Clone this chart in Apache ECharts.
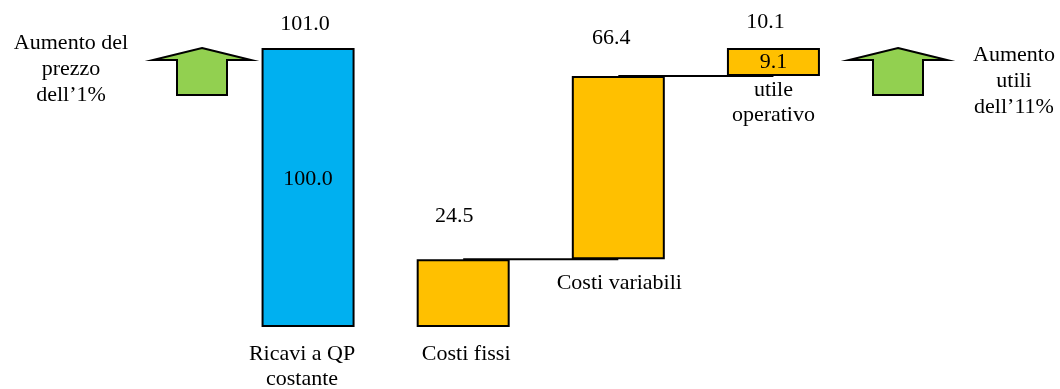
<!DOCTYPE html>
<html>
<head>
<meta charset="utf-8">
<script src="https://cdn.jsdelivr.net/npm/echarts@6/dist/echarts.min.js"></script>
<style>
  html, body { margin: 0; padding: 0; background: #ffffff; }
  #chart { width: 1060px; height: 389px; }
</style>
</head>
<body>
<div id="chart"></div>
<script>
// Waterfall: revenue after a 1% price rise, split into fixed costs, variable costs and operating profit
const categories = ['Ricavi a QP\ncostante', 'Costi fissi', 'Costi variabili', 'utile\noperativo'];
const baseValues = [0, 0, 24.5, 90.9];
const barValues = [101.0, 24.5, 66.4, 10.1];
const topLabels = ['101.0', '24.5', '66.4', '10.1'];
const innerLabels = ['100.0', '', '', '9.1'];
const leftNote = ['Aumento del', 'prezzo', 'dell\u20191%'];
const rightNote = ['Aumento', 'utili', 'dell\u201911%'];

// styling per column
const barColors = ['#00B0F0', '#FFC000', '#FFC000', '#FFC000'];
const topGap = [11, 31, 25, 13];
const topShift = [-3, -9, -7, -8];
const nameGap = [15, 15, 11, 2];
const nameShift = [-6, 3, 1, 0];

const FONT = '"Liberation Serif", "Times New Roman", serif';
const TEXT = '#000000';

const chart = echarts.init(document.getElementById('chart'), null, { renderer: 'canvas' });

const tops = barValues.map((v, i) => +(baseValues[i] + v).toFixed(1));

// connector segments at the level where one column hands over to the next
const connectors = [];
for (let i = 0; i < categories.length - 1; i++) {
  if (baseValues[i + 1] > 0) {
    const d = categories.map(() => null);
    d[i] = baseValues[i + 1];
    d[i + 1] = baseValues[i + 1];
    connectors.push({
      type: 'line', data: d, z: 1, symbol: 'none', silent: true,
      lineStyle: { color: '#000', width: 2 }, connectNulls: false
    });
  }
}

const labelStyle = { color: TEXT, fontFamily: FONT, fontSize: 22, lineHeight: 25 };

function arrow(cx) {
  return {
    type: 'polygon',
    shape: {
      points: [[cx, 48], [cx + 49, 60], [cx + 25, 60], [cx + 25, 95],
               [cx - 25, 95], [cx - 25, 60], [cx - 49, 60]]
    },
    style: { fill: '#92D050', stroke: '#000', lineWidth: 2 },
    silent: true
  };
}

function note(lines, cx, top) {
  return {
    type: 'text', x: cx, y: top, silent: true,
    style: {
      text: lines.join('\n'), fill: TEXT, font: '22px ' + FONT,
      align: 'center', verticalAlign: 'top', lineHeight: 26
    }
  };
}

const option = {
  animation: false,
  backgroundColor: '#ffffff',
  grid: { left: 230.5, right: 209, top: 48, bottom: 62 },
  xAxis: {
    type: 'category', data: categories, show: false
  },
  yAxis: { type: 'value', min: 0, max: 101, show: false },
  series: [
    {
      type: 'bar', stack: 'w', data: baseValues, barWidth: 93, silent: true,
      itemStyle: { color: 'transparent' }
    },
    {
      type: 'bar', stack: 'w', barWidth: 93, z: 2, silent: true,
      data: barValues.map((v, i) => ({
        value: v,
        itemStyle: { color: barColors[i], borderColor: '#000', borderWidth: 2 },
        label: {
          show: innerLabels[i] !== '', position: 'inside', formatter: innerLabels[i],
          offset: [0, i === 0 ? -8 : 0], ...labelStyle
        }
      }))
    },
    ...connectors,
    {
      type: 'scatter', symbolSize: 0, silent: true, z: 3,
      itemStyle: { opacity: 1 },
      data: tops.map((t, i) => ({
        value: [i, t],
        label: {
          show: true, position: 'top', distance: topGap[i], offset: [topShift[i], 0],
          formatter: topLabels[i], ...labelStyle
        }
      }))
    },
    {
      type: 'scatter', symbolSize: 0, silent: true, z: 3,
      itemStyle: { opacity: 1 },
      data: baseValues.map((b, i) => ({
        value: [i, b],
        label: {
          show: true, position: 'bottom', distance: nameGap[i], offset: [nameShift[i], 0],
          formatter: categories[i], align: 'center', ...labelStyle
        }
      }))
    }
  ],
  graphic: [
    arrow(202),
    arrow(898),
    note(leftNote, 71, 30),
    note(rightNote, 1014, 42)
  ]
};

chart.setOption(option);
</script>
</body>
</html>
